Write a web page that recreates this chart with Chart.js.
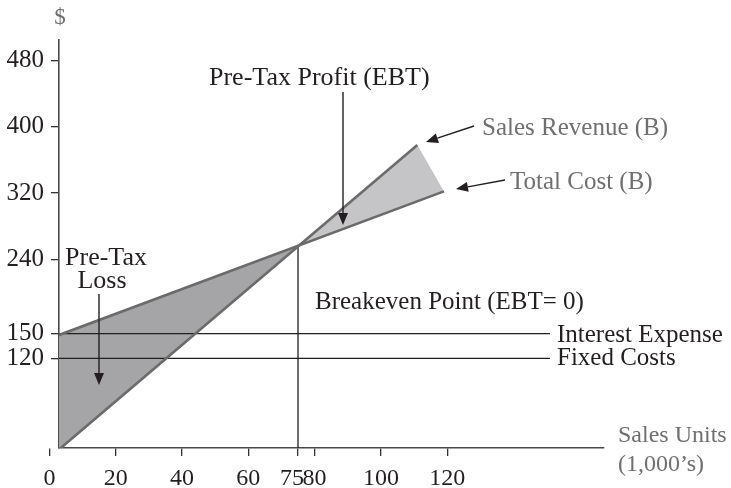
<!DOCTYPE html>
<html>
<head>
<meta charset="utf-8">
<script src="https://cdn.jsdelivr.net/npm/chart.js@4/dist/chart.umd.min.js"></script>
<style>
html,body{margin:0;padding:0;background:#fff;}
#wrap{width:731px;height:488px;position:relative;}
</style>
</head>
<body>
<div id="wrap"><canvas id="c" width="731" height="488"></canvas></div>
<script>
// ---- data ----
const xTicks = [0, 20, 40, 60, 75, 80, 100, 120];
const yTicks = [120, 150, 240, 320, 400, 480];
const salesRevenue = [{x: 0, y: 0}, {x: 111, y: 378}];
const totalCost = [{x: 0, y: 144}, {x: 119, y: 322}];
const interestExpense = [{x: 0, y: 150}, {x: 151, y: 150}];
const fixedCosts = [{x: 0, y: 120}, {x: 151, y: 120}];
const breakevenPoint = {x: 75, y: 255};
const breakevenLine = [{x: 75, y: 0}, {x: 75, y: 255}];
const lossRegion = [totalCost[0], breakevenPoint, salesRevenue[0], totalCost[0]];
const profitRegion = [breakevenPoint, salesRevenue[1], totalCost[1], breakevenPoint];

const FONT = "'Liberation Serif', 'Times New Roman', serif";
const BLACK = '#231f20';
const GREY_TXT = '#6f6f6f';

function arrow(ctx, x1, y1, x2, y2) {
  const ang = Math.atan2(y2 - y1, x2 - x1);
  const L = 12, W = 5;
  const bx = x2 - L * Math.cos(ang), by = y2 - L * Math.sin(ang);
  ctx.beginPath();
  ctx.moveTo(x1, y1);
  ctx.lineTo(bx, by);
  ctx.lineWidth = 1.4;
  ctx.strokeStyle = BLACK;
  ctx.stroke();
  ctx.beginPath();
  ctx.moveTo(x2, y2);
  ctx.lineTo(bx - W * Math.sin(ang), by + W * Math.cos(ang));
  ctx.lineTo(bx + W * Math.sin(ang), by - W * Math.cos(ang));
  ctx.closePath();
  ctx.fillStyle = BLACK;
  ctx.fill();
}

const annotations = {
  id: 'annotations',
  afterDraw(chart) {
    const ctx = chart.ctx;
    ctx.save();
    ctx.textBaseline = 'middle';
    ctx.font = '23px ' + FONT;
    // $ label
    ctx.fillStyle = GREY_TXT;
    ctx.textAlign = 'center';
    ctx.fillText('$', 60, 18);
    // grey labels
    ctx.textAlign = 'left';
    ctx.font = '25px ' + FONT;
    ctx.fillText('Sales Revenue (B)', 482, 128);
    ctx.fillText('Total Cost (B)', 510, 182);
    ctx.font = '24px ' + FONT;
    ctx.fillText('Sales Units', 618, 436);
    ctx.fillText('(1,000\u2019s)', 618, 465);
    // black labels
    ctx.fillStyle = BLACK;
    ctx.font = '26px ' + FONT;
    ctx.fillText('Pre-Tax Profit (EBT)', 209, 78);
    ctx.font = '25px ' + FONT;
    ctx.fillText('Breakeven Point (EBT= 0)', 315, 302);
    ctx.fillText('Interest Expense', 557, 335);
    ctx.fillText('Fixed Costs', 557, 358);
    ctx.textAlign = 'center';
    ctx.font = '26px ' + FONT;
    ctx.fillText('Pre-Tax', 106, 258);
    ctx.fillText('Loss', 102, 281);
    // arrows
    arrow(ctx, 343, 92, 343, 225);
    arrow(ctx, 99, 294, 99, 385);
    arrow(ctx, 474, 126, 426, 142);
    arrow(ctx, 505, 180, 456, 189);
    ctx.restore();
  }
};

const lineDs = (data, color, width) => ({
  data, showLine: true, borderColor: color, borderWidth: width,
  pointRadius: 0, fill: false, tension: 0
});

new Chart(document.getElementById('c'), {
  type: 'scatter',
  data: {
    datasets: [
      lineDs(salesRevenue, '#6b6b6b', 2.6),
      lineDs(totalCost, '#6b6b6b', 2.6),
      lineDs(breakevenLine, BLACK, 1.3),
      lineDs(interestExpense, BLACK, 1.3),
      lineDs(fixedCosts, BLACK, 1.3),
      {data: profitRegion, showLine: true, borderWidth: 0, borderColor: 'rgba(0,0,0,0)',
       backgroundColor: '#c5c5c7', fill: 'shape', pointRadius: 0},
      {data: lossRegion, showLine: true, borderWidth: 0, borderColor: 'rgba(0,0,0,0)',
       backgroundColor: '#a5a5a7', fill: 'shape', pointRadius: 0}
    ]
  },
  options: {
    responsive: false,
    animation: false,
    events: [],
    layout: {padding: {top: 40, right: 127, bottom: 0, left: 0}},
    plugins: {legend: {display: false}, tooltip: {enabled: false}, title: {display: false}},
    scales: {
      x: {
        type: 'linear', min: 2.9, max: 167.3,
        afterBuildTicks: s => { s.ticks = xTicks.map(v => ({value: v})); },
        afterFit: s => { s.height = 40; },
        border: {color: '#4a4a4a', width: 1.6},
        grid: {drawOnChartArea: false, drawTicks: true, tickLength: 8, color: '#333', lineWidth: 1.3},
        ticks: {autoSkip: false, maxRotation: 0, minRotation: 0, padding: 8, color: BLACK,
                callback: v => (v === 75 ? '75\u2002' : String(v)),
                font: {family: FONT, size: 24, lineHeight: 1.2}}
      },
      y: {
        type: 'linear', min: 11.7, max: 505,
        afterBuildTicks: s => { s.ticks = yTicks.map(v => ({value: v})); },
        afterFit: s => { s.width = 59; },
        border: {color: '#4a4a4a', width: 1.6},
        grid: {drawOnChartArea: false, drawTicks: true, tickLength: 8, color: '#333', lineWidth: 1.3},
        ticks: {autoSkip: false, padding: 7, color: BLACK,
                font: {family: FONT, size: 25}}
      }
    }
  },
  plugins: [annotations]
});
</script>
</body>
</html>
